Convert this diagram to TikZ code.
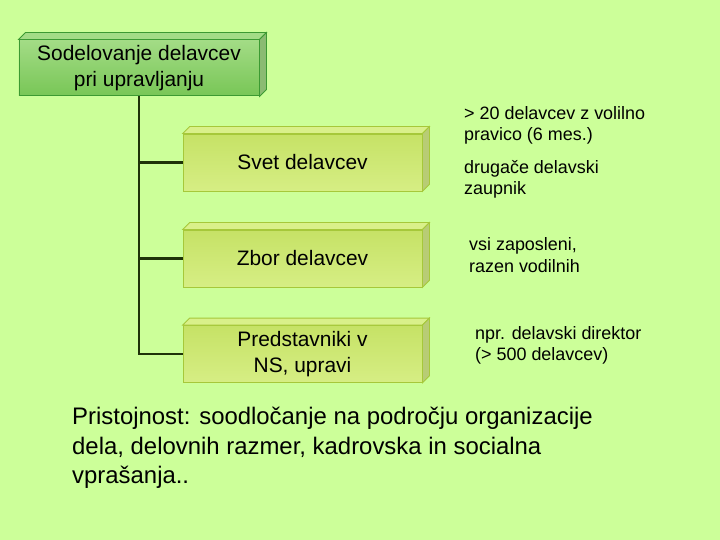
\documentclass[tikz,border=0pt]{standalone}
\usepackage{fontspec}
\setmainfont{Liberation Sans}
\usetikzlibrary{positioning}
\definecolor{bg}{HTML}{CCFF99}
\definecolor{rootedge}{HTML}{3C9A32}
\definecolor{roottop}{HTML}{A3DC86}
\definecolor{rootlow}{HTML}{78C656}
\definecolor{kidedge}{HTML}{A6C83A}
\definecolor{kidtop}{HTML}{C6E266}
\definecolor{kidlow}{HTML}{D6EE84}
\definecolor{kidlid}{HTML}{D9F08A}
\definecolor{stem}{HTML}{1E3208}
\tikzset{
  rootbox/.style={draw=rootedge,line width=1pt,top color=roottop,bottom color=rootlow,
    minimum width=240bp,minimum height=56bp,inner sep=0pt,align=center,
    font=\fontsize{21}{26.5}\selectfont},
  kidbox/.style={draw=kidedge,line width=0.8pt,top color=kidtop,bottom color=kidlow,
    minimum width=239bp,minimum height=57bp,inner sep=0pt,align=center,
    font=\fontsize{21}{25.5}\selectfont},
  note/.style={anchor=west,align=left,inner sep=0pt,font=\fontsize{18}{21.5}\selectfont},
  branch/.style={draw=stem,line width=3pt},
}
% lid and side of a raised box
\newcommand{\liftbox}[3]{%
  \filldraw[fill=#2,draw=#3,line width=0.8pt] (#1.north west) -- ++(7,-7)
    -- ([shift={(7,-7)}]#1.north east) -- (#1.north east) -- cycle;
  \filldraw[fill=#2!85!black,draw=#3,line width=0.8pt] (#1.north east) -- ++(7,-7)
    -- ([shift={(7,-7)}]#1.south east) -- (#1.south east) -- cycle;}
\begin{document}
\begin{tikzpicture}[x=1bp,y=-1bp]
  \fill[bg] (0,0) rectangle (720,540);
  \useasboundingbox (0,0) rectangle (720,540);

  \node [rootbox] (top) at (139,68) {Sodelovanje delavcev\\pri upravljanju};
  \liftbox{top}{roottop}{rootedge}

  \node [kidbox] (c1) at (302.5,162.5) {Svet delavcev};
  \node [kidbox] (c2) at (302.5,258.5) {Zbor delavcev};
  \node [kidbox] (c3) at (302.5,354) {Predstavniki v\\NS, upravi};
  \liftbox{c1}{kidlid}{kidedge}
  \liftbox{c2}{kidlid}{kidedge}
  \liftbox{c3}{kidlid}{kidedge}

  \draw [branch] (top.south) |- (c3.west);
  \draw [branch] (top.south |- c1.west) -- (c1.west);
  \draw [branch] (top.south |- c2.west) -- (c2.west);

  \node [note] (o1) at (464,125.5) {> 20 delavcev z volilno\\pravico (6 mes.)};
  \node [note] (o2) at (464,179.5) {drugače delavski\\zaupnik};
  \node [note] (o3) at (469,255) {vsi zaposleni,\\razen vodilnih};
  \node [note] (o4) at (475,345.5) {npr. delavski direktor\\(> 500 delavcev)};

  \node [anchor=west,align=left,inner sep=0pt,font=\fontsize{24}{29.5}\selectfont] (pr) at (72,448)
    {Pristojnost: soodločanje na področju organizacije\\dela, delovnih razmer, kadrovska in socialna\\vprašanja..};
\end{tikzpicture}
\end{document}
